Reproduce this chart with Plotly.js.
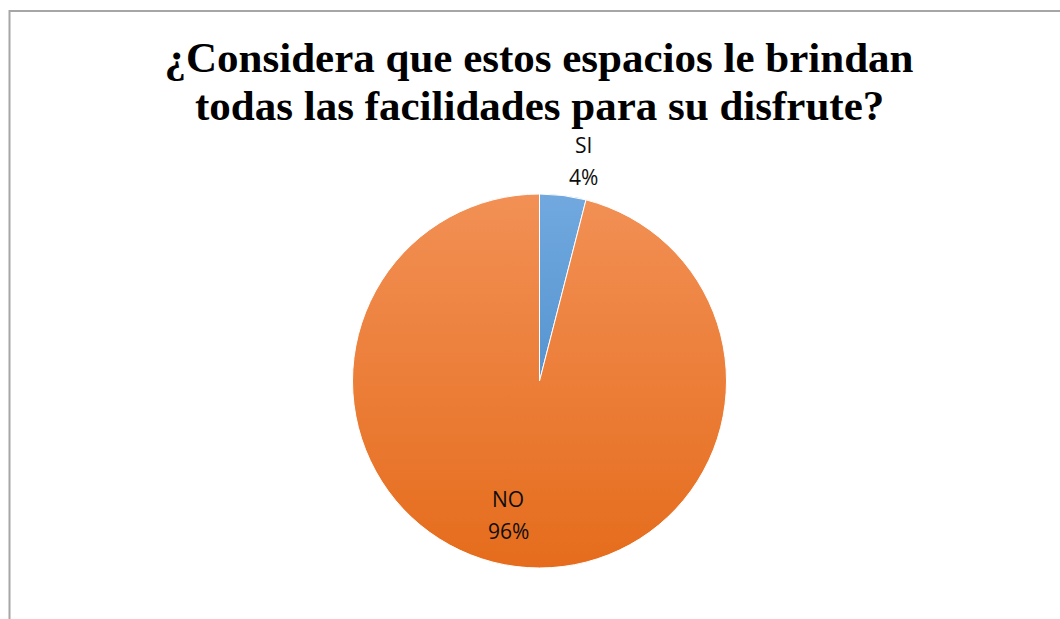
<!DOCTYPE html>
<html>
<head>
<meta charset="utf-8">
<script src="https://cdn.plot.ly/plotly-3.0.1.min.js"></script>
<style>
  html, body { margin: 0; padding: 0; background: #ffffff; }
  #chart { width: 1060px; height: 619px; }
</style>
</head>
<body>
<div id="chart"></div>
<script>
const categories = ['SI', 'NO'];
const values = [4, 96];
const titleLine1 = '¿Considera que estos espacios le brindan';
const titleLine2 = 'todas las facilidades para su disfrute?';

const W = 1060, H = 619;
const cx = 539.5, cy = 381, r = 187;
// label placement style: radius factor and angular nudge (degrees) per slice
const labelRadius = [1.2, 0.735];
const labelNudge = [4, 6];
const lineGap = 16;

const total = values.reduce((a, b) => a + b, 0);

const trace = {
  type: 'pie',
  labels: categories,
  values: values,
  sort: false,
  direction: 'clockwise',
  rotation: 0,
  textinfo: 'none',
  marker: { colors: ['#5b9bd5', '#f07b2c'], line: { color: '#ffffff', width: 1 } },
  hoverinfo: 'none',
  showlegend: false,
  domain: { x: [(cx - r) / W, (cx + r) / W], y: [1 - (cy + r) / H, 1 - (cy - r) / H] }
};

const labelFont = { family: 'Open Sans, Liberation Sans, sans-serif', size: 21, color: '#0d0d0d' };
const annotations = [];
let cum = 0;
values.forEach(function (v, i) {
  const mid = (cum + v / 2) / total * 360 + labelNudge[i];
  cum += v;
  const rad = mid * Math.PI / 180;
  const px = cx + labelRadius[i] * r * Math.sin(rad);
  const py = cy - labelRadius[i] * r * Math.cos(rad);
  const pct = Math.round(v / total * 100) + '%';
  annotations.push({ xref: 'paper', yref: 'paper', x: px / W, y: 1 - (py - lineGap) / H,
    text: categories[i], showarrow: false, xanchor: 'center', yanchor: 'middle', font: labelFont });
  annotations.push({ xref: 'paper', yref: 'paper', x: px / W, y: 1 - (py + lineGap) / H,
    text: pct, showarrow: false, xanchor: 'center', yanchor: 'middle', font: labelFont });
});

const titleFont = { family: 'Liberation Serif, Times New Roman, serif', size: 43, color: '#000000', weight: 'bold' };
annotations.push({ xref: 'paper', yref: 'paper', x: 539 / W, y: 1 - 105 / H,
  text: titleLine2, showarrow: false, xanchor: 'center', yanchor: 'middle', font: titleFont });

const layout = {
  width: W, height: H,
  margin: { l: 0, r: 0, t: 0, b: 0 },
  paper_bgcolor: '#ffffff',
  title: {
    text: titleLine1,
    font: titleFont,
    x: 539 / W, xanchor: 'center',
    y: 1 - 57 / H, yanchor: 'middle', yref: 'container'
  },
  annotations: annotations,
  shapes: [{
    type: 'rect', xref: 'paper', yref: 'paper',
    x0: 9.5 / W, x1: 1.01, y0: -0.01, y1: 1 - 11 / H,
    line: { color: '#a6a6a6', width: 2 }
  }]
};

Plotly.newPlot('chart', [trace], layout, { displayModeBar: false, staticPlot: true }).then(function () {
  const svg = document.querySelector('#chart svg.main-svg');
  const ns = 'http://www.w3.org/2000/svg';
  let defs = svg.querySelector('defs');
  function grad(id, c1, c2) {
    const g = document.createElementNS(ns, 'linearGradient');
    g.setAttribute('id', id);
    g.setAttribute('x1', '0'); g.setAttribute('y1', '0');
    g.setAttribute('x2', '0'); g.setAttribute('y2', '1');
    g.setAttribute('gradientUnits', 'objectBoundingBox');
    const s1 = document.createElementNS(ns, 'stop');
    s1.setAttribute('offset', '0'); s1.setAttribute('stop-color', c1);
    const s2 = document.createElementNS(ns, 'stop');
    s2.setAttribute('offset', '1'); s2.setAttribute('stop-color', c2);
    g.appendChild(s1); g.appendChild(s2);
    defs.appendChild(g);
  }
  grad('gSI', '#71a9df', '#5694d0');
  grad('gNO', '#f29055', '#e56c1c');
  const paths = document.querySelectorAll('#chart .slice path.surface');
  const ids = ['gSI', 'gNO'];
  paths.forEach(function (p, i) { p.style.fill = 'url(#' + ids[i] + ')'; });
});
</script>
</body>
</html>
